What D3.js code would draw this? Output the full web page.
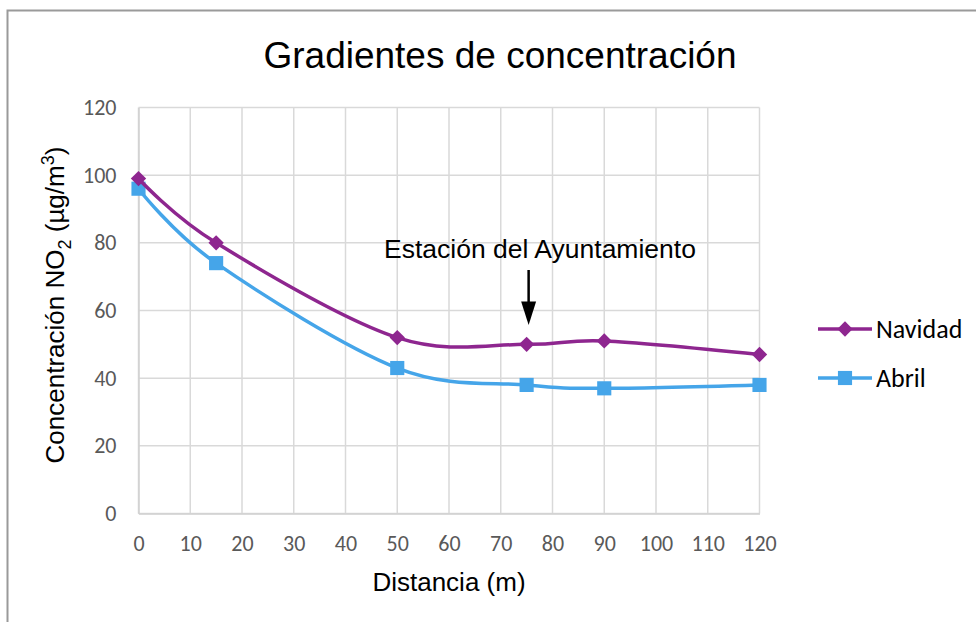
<!DOCTYPE html>
<html>
<head>
<meta charset="utf-8">
<script src="https://cdn.jsdelivr.net/npm/d3@7"></script>
<style>
  body { margin: 0; background: #fff; }
  svg { display: block; }
</style>
</head>
<body>
<div id="vis"></div>
<script>
// data
const distances = [0, 15, 50, 75, 90, 120];
const navidad = [99, 80, 52, 50, 51, 47];
const abril = [96, 74, 43, 38, 37, 38];
const xTicks = [0, 10, 20, 30, 40, 50, 60, 70, 80, 90, 100, 110, 120];
const yTicks = [0, 20, 40, 60, 80, 100, 120];

const W = 976, H = 622;
const margin = { top: 107.5, left: 138.5 };
const width = 621, height = 406;

const svg = d3.select("#vis").append("svg")
  .attr("width", W)
  .attr("height", H);

// chart frame
svg.append("path")
  .attr("d", `M7.5,${H} V10.5 H${W}`)
  .attr("fill", "none")
  .attr("stroke", "#9a9a9a")
  .attr("stroke-width", 2);

const g = svg.append("g")
  .attr("transform", `translate(${margin.left},${margin.top})`);

const x = d3.scaleLinear().domain([0, 120]).range([0, width]);
const y = d3.scaleLinear().domain([0, 120]).range([height, 0]);

// gridlines
g.append("g")
  .selectAll("line")
  .data(xTicks)
  .enter().append("line")
  .attr("x1", d => x(d)).attr("x2", d => x(d))
  .attr("y1", 0).attr("y2", height)
  .attr("stroke", "#d9d9d9").attr("stroke-width", 1.5);

g.append("g")
  .selectAll("line")
  .data(yTicks)
  .enter().append("line")
  .attr("x1", 0).attr("x2", width)
  .attr("y1", d => y(d)).attr("y2", d => y(d))
  .attr("stroke", "#d9d9d9").attr("stroke-width", 1.5);

// axes (labels only, Excel style)
const xAxis = g.append("g")
  .attr("transform", `translate(0,${height})`)
  .call(d3.axisBottom(x).tickValues(xTicks).tickSize(0).tickPadding(22));
xAxis.select(".domain").attr("stroke", "#d0d0d0").attr("stroke-width", 1.5);

const yAxis = g.append("g")
  .call(d3.axisLeft(y).tickValues(yTicks).tickSize(0).tickPadding(22));
yAxis.select(".domain").attr("stroke", "#d0d0d0").attr("stroke-width", 1.5);

g.selectAll(".tick text")
  .attr("fill", "#595959")
  .style("font-family", "Carlito, Lato, 'Open Sans', sans-serif")
  .style("font-size", "22px");

// series
const series = [
  { name: "Navidad", values: navidad, color: "#8e268f", symbol: d3.symbolDiamond2, size: 150 },
  { name: "Abril", values: abril, color: "#45a5e9", symbol: d3.symbolSquare, size: 200 }
];

const line = d3.line()
  .x(d => x(d[0]))
  .y(d => y(d[1]))
  .curve(d3.curveCatmullRom.alpha(0));

series.slice().reverse().forEach(s => {
  const pts = distances.map((d, i) => [d, s.values[i]]);
  g.append("path")
    .datum(pts)
    .attr("fill", "none")
    .attr("stroke", s.color)
    .attr("stroke-width", 3.5)
    .attr("d", line);
  g.selectAll(null)
    .data(pts)
    .enter().append("path")
    .attr("transform", d => `translate(${x(d[0])},${y(d[1])})`)
    .attr("d", d3.symbol().type(s.symbol).size(s.size))
    .attr("fill", s.color);
});

// annotation
const ax = x(75) + 2;
g.append("text")
  .attr("x", 540 - margin.left)
  .attr("y", 150)
  .attr("text-anchor", "middle")
  .style("font-family", "'Liberation Sans', Arial, sans-serif")
  .style("font-size", "26.5px")
  .text("Estación del Ayuntamiento");

g.append("line")
  .attr("x1", ax).attr("x2", ax)
  .attr("y1", 162.5).attr("y2", 198)
  .attr("stroke", "#000").attr("stroke-width", 2.5);
g.append("path")
  .attr("d", `M${ax - 7.5},194 L${ax + 7.5},194 L${ax},217.5 Z`)
  .attr("fill", "#000");

// title
svg.append("text")
  .attr("x", 500)
  .attr("y", 68)
  .attr("text-anchor", "middle")
  .style("font-family", "'Liberation Sans', Arial, sans-serif")
  .style("font-size", "37px")
  .text("Gradientes de concentración");

// axis titles
svg.append("text")
  .attr("x", 449)
  .attr("y", 591)
  .attr("text-anchor", "middle")
  .style("font-family", "'Liberation Sans', Arial, sans-serif")
  .style("font-size", "26px")
  .text("Distancia (m)");

const yt = svg.append("text")
  .attr("transform", "translate(64,305) rotate(-90)")
  .attr("text-anchor", "middle")
  .style("font-family", "'Liberation Sans', Arial, sans-serif")
  .style("font-size", "26px");
yt.append("tspan").text("Concentración NO");
yt.append("tspan").attr("dy", 7).style("font-size", "18px").text("2");
yt.append("tspan").attr("dy", -7).text(" (µg/m");
yt.append("tspan").attr("dy", -10).style("font-size", "18px").text("3");
yt.append("tspan").attr("dy", 10).text(")");

// legend
const legend = svg.append("g").attr("transform", "translate(818,329)");
series.forEach((s, i) => {
  const row = legend.append("g").attr("transform", `translate(0,${i * 49})`);
  row.append("line")
    .attr("x1", 0).attr("x2", 54)
    .attr("stroke", s.color).attr("stroke-width", 3.5);
  row.append("path")
    .attr("transform", "translate(27,0)")
    .attr("d", d3.symbol().type(s.symbol).size(s.size))
    .attr("fill", s.color);
  row.append("text")
    .attr("x", 58)
    .attr("y", 9)
    .style("font-family", "Carlito, Lato, 'Open Sans', sans-serif")
    .style("font-size", "26px")
    .text(s.name);
});
</script>
</body>
</html>
